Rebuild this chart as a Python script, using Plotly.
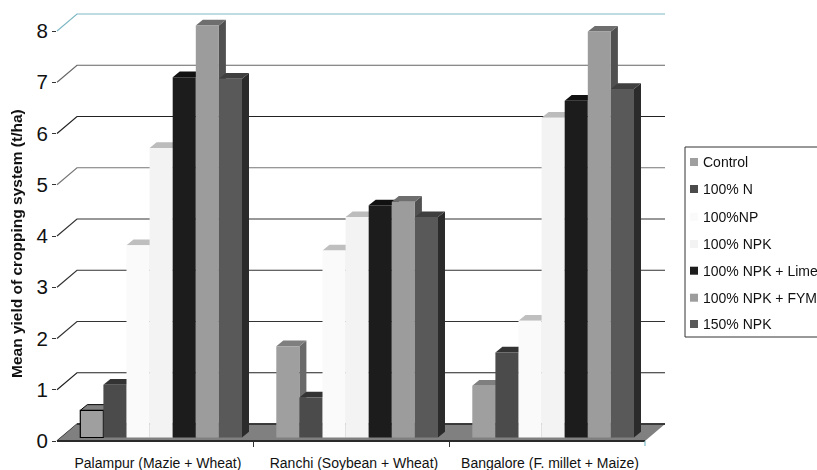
import plotly.graph_objects as go

categories = ["Palampur (Mazie + Wheat)", "Ranchi (Soybean + Wheat)", "Bangalore (F. millet + Maize)"]
series_names = ["Control", "100% N", "100%NP", "100% NPK", "100% NPK + Lime", "100% NPK + FYM", "150% NPK"]
control = [0.53, 1.78, 1.01]
n_100 = [1.03, 0.78, 1.66]
np_100 = [3.75, 3.65, 2.28]
npk_100 = [5.65, 4.30, 6.24]
npk_lime = [7.03, 4.53, 6.57]
npk_fym = [8.04, 4.60, 7.92]
npk_150 = [7.00, 4.30, 6.80]
series_values = [control, n_100, np_100, npk_100, npk_lime, npk_fym, npk_150]
y_ticks = [0, 1, 2, 3, 4, 5, 6, 7, 8]

front_colors = ["#9f9f9f", "#4b4b4b", "#fafafa", "#f3f3f3", "#1c1c1c", "#9c9c9c", "#595959"]
top_colors = ["#7f7f7f", "#333333", "#bfbfbf", "#bcbcbc", "#111111", "#6e6e6e", "#3f3f3f"]
side_colors = ["#6a6a6a", "#2b2b2b", "#d0d0d0", "#cccccc", "#0c0c0c", "#505050", "#2b2b2b"]
grid_colors = ["#222222", "#222222", "#333333", "#333333", "#333333", "#777777", "#222222", "#666666", "#7fb8c4"]

W, H = 817, 470
X0, PX_CAT = 57, 196
Y0, PX_UNIT = 441, 51.25
WALL_DX, WALL_DY = 20 / PX_CAT, 17 / PX_UNIT
BAR_DX, BAR_DY = 7 / PX_CAT, 5.7 / PX_UNIT
BAR_W = 23.1 / PX_CAT
BAR_OFF = 23.3 / PX_CAT
BAR_BASE = 3.5 / PX_UNIT
FONT = "Liberation Sans, Arial, sans-serif"


def xp(px):
    return (px - X0) / PX_CAT


def yp(py):
    return (Y0 - py) / PX_UNIT


fig = go.Figure()
n_cat = len(categories)
ov = dict(xaxis="x2", yaxis="y2", hoverinfo="skip", showlegend=False)

# invisible trace so the visible axes are drawn
fig.add_trace(go.Scatter(x=[0, n_cat], y=[0, 8], mode="markers", opacity=0, hoverinfo="skip", showlegend=False))

# back wall grid lines
for v, c in zip(y_ticks, grid_colors):
    fig.add_trace(go.Scatter(
        x=[0, WALL_DX, n_cat + WALL_DX], y=[v, v + WALL_DY, v + WALL_DY],
        mode="lines", line=dict(color=c, width=1.2), zorder=0, **ov))

# floor
fig.add_trace(go.Scatter(
    x=[0, WALL_DX, n_cat + WALL_DX, n_cat, 0], y=[0, WALL_DY, WALL_DY, 0, 0],
    mode="lines", fill="toself", fillcolor="#808080", line=dict(width=0), zorder=1, **ov))
fig.add_trace(go.Scatter(
    x=[WALL_DX, n_cat + WALL_DX], y=[WALL_DY, WALL_DY],
    mode="lines", line=dict(color="#222222", width=1.5), zorder=1, **ov))
fig.add_trace(go.Scatter(
    x=[0, n_cat], y=[0, 0],
    mode="lines", line=dict(color="#2a2a2a", width=2.2), zorder=1, **ov))

# bars, painted left to right
for i, (name, vals) in enumerate(zip(series_names, series_values)):
    xl = [c + BAR_OFF + i * BAR_W for c in range(n_cat)]
    tx, ty, sx, sy = [], [], [], []
    for x, v in zip(xl, vals):
        top = BAR_BASE + v
        tx += [x, x + BAR_DX, x + BAR_W + BAR_DX, x + BAR_W, x, None]
        ty += [top, top + BAR_DY, top + BAR_DY, top, top, None]
        r = x + BAR_W
        sx += [r, r + BAR_DX, r + BAR_DX, r, r, None]
        sy += [BAR_BASE, BAR_BASE + BAR_DY, top + BAR_DY, top, BAR_BASE, None]
    fig.add_trace(go.Scatter(x=sx, y=sy, mode="lines", fill="toself", fillcolor=side_colors[i],
                             line=dict(width=0), zorder=2 + 2 * i, **ov))
    fig.add_trace(go.Scatter(x=tx, y=ty, mode="lines", fill="toself", fillcolor=top_colors[i],
                             line=dict(width=0), zorder=2 + 2 * i, **ov))
    fig.add_trace(go.Bar(
        x=[x + BAR_W / 2 for x in xl], y=vals, base=BAR_BASE, width=BAR_W, name=name,
        marker=dict(color=front_colors[i], line=dict(width=[1.2 if i == 0 and k == 0 else 0 for k in range(n_cat)],
                                                     color="#000000")),
        zorder=3 + 2 * i, **ov))

# outline of the first bar's top
v0 = control[0] + BAR_BASE
x0 = BAR_OFF
fig.add_trace(go.Scatter(
    x=[x0, x0 + BAR_DX, x0 + BAR_W + BAR_DX, x0 + BAR_W],
    y=[v0, v0 + BAR_DY, v0 + BAR_DY, v0],
    mode="lines", line=dict(color="#000000", width=1), zorder=3, **ov))

# teal end tick
fig.add_trace(go.Scatter(x=[n_cat, n_cat], y=[0, yp(446)], mode="lines",
                         line=dict(color="#7fb8c4", width=1.2), zorder=1, **ov))

# legend
legend_y = [162, 189, 216.7, 244, 270.7, 297.7, 324]
legend_box_x = [W + 5, 685, 685, W + 5]
legend_box_y = [147, 147, 337, 337]
fig.add_trace(go.Scatter(x=[xp(v) for v in legend_box_x], y=[yp(v) for v in legend_box_y],
                         mode="lines", line=dict(color="#333333", width=1), zorder=20, **ov))
for name, color, py in zip(series_names, front_colors, legend_y):
    fig.add_trace(go.Scatter(x=[xp(694)], y=[yp(py)], mode="markers",
                             marker=dict(symbol="square", size=8, color=color, line=dict(width=0)),
                             zorder=20, **ov))
    fig.add_annotation(x=703 / W, y=1 - py / H, xref="paper", yref="paper", text=name,
                       showarrow=False, xanchor="left", yanchor="middle", xshift=-2,
                       font=dict(family=FONT, size=14, color="#111111"))

# y axis title
fig.add_annotation(x=16 / W, y=1 - 244 / H, xref="paper", yref="paper",
                   text="<b>Mean yield of cropping system (t/ha)</b>", textangle=-90,
                   showarrow=False, xanchor="center", yanchor="middle",
                   font=dict(family=FONT, size=15.5, color="#111111"))

fig.update_layout(
    width=W, height=H, margin=dict(l=0, r=0, t=0, b=0),
    paper_bgcolor="white", plot_bgcolor="rgba(0,0,0,0)", showlegend=False, barmode="overlay",
    xaxis=dict(domain=[X0 / W, (X0 + 3 * PX_CAT) / W], range=[0, n_cat], automargin=False,
               tickmode="array", tickvals=[k + 0.515 for k in range(n_cat)], ticktext=categories,
               ticks="", showgrid=False, zeroline=False, showline=False, ticklabelstandoff=12,
               tickfont=dict(family=FONT, size=14, color="#111111"),
               minor=dict(tickmode="array", tickvals=[1, 2], ticks="outside", ticklen=5,
                          tickcolor="#333333", tickwidth=1, showgrid=False)),
    yaxis=dict(domain=[(H - Y0) / H, (H - Y0 + 8 * PX_UNIT) / H], range=[0, 8], automargin=False,
               tickmode="array", tickvals=y_ticks, ticktext=[str(v) for v in y_ticks],
               ticks="outside", ticklen=4, tickcolor="#333333", tickwidth=1,
               showgrid=False, zeroline=False, showline=True, linecolor="#222222", linewidth=1,
               tickfont=dict(family=FONT, size=20.5, color="#111111")),
    xaxis2=dict(domain=[0, 1], range=[xp(0), xp(W)], anchor="y2", visible=False, fixedrange=True, automargin=False),
    yaxis2=dict(domain=[0, 1], range=[yp(H), yp(0)], anchor="x2", visible=False, fixedrange=True, automargin=False),
)
fig.write_html("out.html", config={"displayModeBar": False},
               post_script="document.body.style.margin='0';")
